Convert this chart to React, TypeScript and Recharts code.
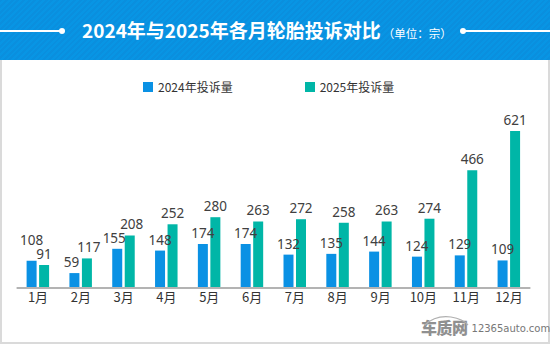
import React from 'react';
import { BarChart, Bar, XAxis, YAxis, Legend, LabelList } from 'recharts';

const months = ['1月', '2月', '3月', '4月', '5月', '6月', '7月', '8月', '9月', '10月', '11月', '12月'];
const complaints2024 = [108, 59, 155, 148, 174, 174, 132, 135, 144, 124, 129, 109];
const complaints2025 = [91, 117, 208, 252, 280, 263, 272, 258, 263, 274, 466, 621];
const seriesNames = ['2024年投诉量', '2025年投诉量'];
const seriesColors = ['#0a91e4', '#00b6a7'];
const titleText = '2024年与2025年各月轮胎投诉对比';
const unitText = '（单位：宗）';

const data = months.map((m, i) => ({ month: m, y2024: complaints2024[i], y2025: complaints2025[i] }));

const FONT = '"Noto Sans CJK SC", "Noto Sans", sans-serif';
const LABEL_FONT = '"Noto Sans", "Noto Sans CJK SC", sans-serif';
const LABEL_OFFSET = 6;
const LIFT = 14;
const NEAR = 16;

// blue label baseline minus teal label baseline, in pixels (positive: the 2024 label sits lower)
const baselineDiff = (props: any, ownValue: number, otherValue: number, isBlue: boolean) => {
  const h = Number(props.height);
  if (!(ownValue > 0) || !(h > 0)) return 0;
  const ratio = h / ownValue;
  const blueV = isBlue ? ownValue : otherValue;
  const tealV = isBlue ? otherValue : ownValue;
  return (tealV - blueV) * ratio;
};

const renderLabel2024 = (props: any) => {
  const { x, y, width, value, index } = props;
  const v = Number(value);
  const diff = baselineDiff(props, v, complaints2025[index], true);
  let baseline = Number(y) - LABEL_OFFSET;
  let dx = 0;
  if (diff < 0 && -diff < LIFT) {
    const tealBaseline = baseline - diff;
    baseline = tealBaseline - LIFT;
  } else if (diff >= 0 && diff < NEAR) {
    dx = -3;
  }
  return (
    <text x={Number(x) + Number(width) / 2 + dx} y={baseline} textAnchor="middle" fontSize={13.5} fill="#404040" fontFamily={LABEL_FONT}>
      {value}
    </text>
  );
};

const renderLabel2025 = (props: any) => {
  const { x, y, width, value, index } = props;
  const v = Number(value);
  const diff = baselineDiff(props, v, complaints2024[index], false);
  const dx = diff >= 0 && diff < NEAR ? 2 : 0;
  return (
    <text x={Number(x) + Number(width) / 2 + dx} y={Number(y) - LABEL_OFFSET} textAnchor="middle" fontSize={13.5} fill="#404040" fontFamily={LABEL_FONT}>
      {value}
    </text>
  );
};

const renderLegend = (props: any) => {
  const { payload } = props;
  return (
    <div style={{ display: 'flex', paddingLeft: 143, gap: 72, fontFamily: FONT, fontSize: 12, color: '#333' }}>
      {(payload || []).map((entry: any, i: number) => (
        <div key={i} style={{ display: 'flex', alignItems: 'center', height: 14 }}>
          <span style={{ display: 'inline-block', width: 10, height: 10, background: entry.color, marginRight: 5 }} />
          <span style={{ lineHeight: '14px' }}>{entry.value}</span>
        </div>
      ))}
    </div>
  );
};

export default function App() {
  return (
    <div style={{ position: 'absolute', left: 0, top: 0, width: 550, height: 344, background: '#fff', overflow: 'hidden', fontFamily: FONT }}>
      <div style={{ position: 'absolute', left: 0, top: 60, width: 550, height: 284, boxSizing: 'border-box', border: '2px solid #dadada', borderTop: 'none' }} />
      <div
        style={{
          position: 'absolute', left: 0, top: 0, width: 550, height: 60,
          background: 'repeating-linear-gradient(135deg, #0a8fde 0px, #0a8fde 2px, #0895e4 2px, #0895e4 4px)',
        }}
      >
        <div style={{ position: 'absolute', left: 0, top: 30, width: 62, height: 1.5, background: '#fff' }} />
        <div style={{ position: 'absolute', left: 59, top: 27.5, width: 6, height: 6, borderRadius: 3, background: '#fff' }} />
        <div style={{ position: 'absolute', left: 460, top: 27.5, width: 6, height: 6, borderRadius: 3, background: '#fff' }} />
        <div style={{ position: 'absolute', left: 463, top: 30, width: 87, height: 1.5, background: '#fff' }} />
        <div style={{ position: 'absolute', left: 82, top: 16, whiteSpace: 'nowrap', color: '#fff', lineHeight: '28px' }}>
          <span style={{ fontSize: 19, fontWeight: 700 }}>{titleText}</span>
          <span style={{ fontSize: 11.5, marginLeft: 2 }}>{unitText}</span>
        </div>
      </div>
      <div style={{ position: 'absolute', left: 0, top: 0 }}>
        <BarChart
          width={550}
          height={344}
          data={data}
          margin={{ top: 111, right: 19.6, bottom: 26, left: 16.6 }}
          barSize={10}
          barGap={2.5}
        >
          <XAxis
            dataKey="month"
            tickLine={false}
            tickSize={3}
            axisLine={{ stroke: '#b3b3b3', strokeWidth: 2 }}
            tick={{ fill: '#333', fontSize: 13, fontFamily: FONT }}
            interval={0}
            height={30}
          />
          <YAxis hide domain={[0, 700]} />
          <Legend
            layout="horizontal"
            verticalAlign="middle"
            align="center"
            content={renderLegend}
            wrapperStyle={{ position: 'absolute', top: 80, left: 0, width: 550 }}
          />
          <Bar dataKey="y2024" name={seriesNames[0]} fill={seriesColors[0]} isAnimationActive={false}>
            <LabelList dataKey="y2024" content={renderLabel2024} />
          </Bar>
          <Bar dataKey="y2025" name={seriesNames[1]} fill={seriesColors[1]} isAnimationActive={false}>
            <LabelList dataKey="y2025" content={renderLabel2025} />
          </Bar>
        </BarChart>
      </div>
      <div style={{ position: 'absolute', left: 421, top: 317, whiteSpace: 'nowrap', display: 'flex', alignItems: 'flex-end' }}>
        <svg width={50} height={22} style={{ position: 'absolute', left: 0, top: -4 }}>
          <path d="M4 12 Q14 2 30 4 Q42 6 47 12" fill="none" stroke="#b0b0b0" strokeWidth={1.2} />
        </svg>
        <span style={{ fontSize: 16, fontWeight: 900, color: '#909090', letterSpacing: -0.5, lineHeight: '21px' }}>车质网</span>
        <span style={{ fontSize: 10, color: '#777', marginLeft: 4, lineHeight: '18px', fontFamily: '"DejaVu Sans", sans-serif' }}>12365auto.com</span>
      </div>
    </div>
  );
}
